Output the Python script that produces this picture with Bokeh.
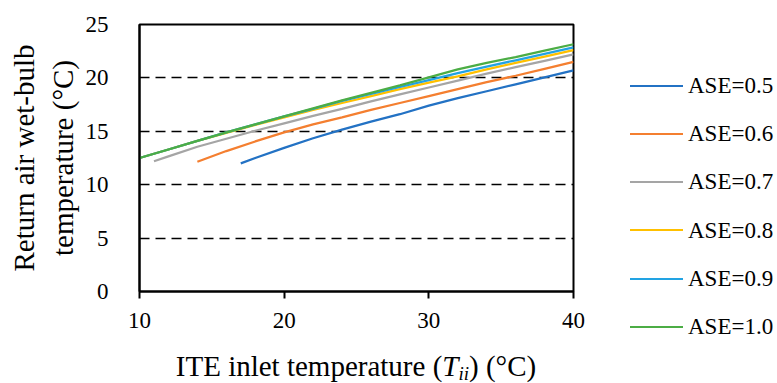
from bokeh.plotting import figure
from bokeh.models import FixedTicker, Range1d, Title, Div
from bokeh.layouts import column, row
from bokeh.embed import file_html
from bokeh.resources import INLINE

# ---- data ----
series_names = ["ASE=0.5", "ASE=0.6", "ASE=0.7", "ASE=0.8", "ASE=0.9", "ASE=1.0"]
series_colors = ["#2372C4", "#F47F30", "#A5A5A5", "#FFC000", "#22A3E3", "#4CAD45"]

x_05 = [17, 18, 20, 22, 24, 26, 28, 30, 32, 34, 36, 38, 40]
y_05 = [12.0, 12.5, 13.45, 14.35, 15.15, 15.9, 16.6, 17.4, 18.1, 18.75, 19.4, 20.05, 20.7]

x_06 = [14, 16, 18, 20, 22, 24, 26, 28, 30, 32, 34, 36, 38, 40]
y_06 = [12.15, 13.15, 14.05, 14.9, 15.65, 16.3, 17.0, 17.65, 18.3, 18.95, 19.6, 20.2, 20.85, 21.5]

x_07 = [11, 12, 14, 16, 18, 20, 22, 24, 26, 28, 30, 32, 34, 36, 38, 40]
y_07 = [12.2, 12.65, 13.55, 14.3, 15.05, 15.75, 16.45, 17.1, 17.8, 18.45, 19.1, 19.75, 20.4, 21.0, 21.6, 22.2]

x_08 = [10, 12, 14, 16, 18, 20, 22, 24, 26, 28, 30, 32, 34, 36, 38, 40]
y_08 = [12.5, 13.3, 14.1, 14.85, 15.6, 16.3, 17.0, 17.65, 18.3, 18.95, 19.55, 20.15, 20.8, 21.4, 22.0, 22.6]

x_09 = [10, 12, 14, 16, 18, 20, 22, 24, 26, 28, 30, 32, 34, 36, 38, 40]
y_09 = [12.5, 13.3, 14.1, 14.9, 15.65, 16.4, 17.1, 17.85, 18.5, 19.15, 19.8, 20.45, 21.05, 21.65, 22.25, 22.85]

x_10 = [10, 12, 14, 16, 18, 20, 22, 24, 26, 28, 30, 32, 34, 36, 38, 40]
y_10 = [12.5, 13.3, 14.1, 14.9, 15.65, 16.4, 17.15, 17.9, 18.6, 19.3, 20.05, 20.8, 21.4, 21.95, 22.55, 23.15]

x_ticks = [10, 20, 30, 40]
y_ticks = [0, 5, 10, 15, 20, 25]

y_title_lines = ["Return air wet-bulb", "temperature (°C)"]

xs = [x_05, x_06, x_07, x_08, x_09, x_10]
ys = [y_05, y_06, y_07, y_08, y_09, y_10]

FONT = "Liberation Serif"

p = figure(width=600, height=345, output_backend="svg", toolbar_location=None,
           x_range=Range1d(10, 40), y_range=Range1d(0, 25),
           min_border_left=139, min_border_right=27, min_border_top=24, min_border_bottom=54)
p.background_fill_color = "white"
p.border_fill_color = "white"
p.outline_line_color = "black"
p.outline_line_width = 2

for xv, yv, c, n in zip(xs, ys, series_colors, series_names):
    p.line(xv, yv, line_color=c, line_width=2.25, name=n)

# axes
p.xaxis.ticker = FixedTicker(ticks=x_ticks)
p.yaxis.ticker = FixedTicker(ticks=y_ticks)
for ax in (p.xaxis[0], p.yaxis[0]):
    ax.axis_line_color = "black"
    ax.axis_line_width = 2
    ax.major_label_text_font = FONT
    ax.major_label_text_font_size = "23px"
    ax.major_label_text_color = "black"
    ax.minor_tick_line_color = None
p.xaxis.major_tick_line_color = "black"
p.xaxis.major_tick_line_width = 2
p.xaxis.major_tick_out = 7
p.xaxis.major_tick_in = 0
p.xaxis.major_label_standoff = 14
p.yaxis.major_tick_line_color = None
p.yaxis.major_tick_out = 0
p.yaxis.major_tick_in = 0
p.yaxis.major_label_standoff = 31

p.xgrid.grid_line_color = None
p.ygrid.grid_line_color = "black"
p.ygrid.grid_line_width = 1.6
p.ygrid.grid_line_dash = "10 6"

# y axis title: two stacked titles in the left panel (first added is nearest the axis)
p.add_layout(Title(text=y_title_lines[1], align="center", text_font=FONT, text_font_size="29px",
                   text_font_style="normal", text_color="black", standoff=8), "left")
p.add_layout(Title(text=y_title_lines[0], align="center", text_font=FONT, text_font_size="29px",
                   text_font_style="normal", text_color="black", standoff=2), "left")

# x axis title with italic subscript, as HTML below the figure
x_title_html = (
    '<div style="width:434px;margin-left:139px;padding-top:7px;text-align:center;'
    'font-family:\'Liberation Serif\';font-size:29px;line-height:29px;color:black;white-space:nowrap;">'
    'ITE inlet temperature (<i>T<span style="font-size:19px;vertical-align:-4px;">ii</span></i>) (°C)</div>'
)
xdiv = Div(text=x_title_html, width=600, height=38, margin=0)

# legend as HTML to the right of the plot
items = []
for i, (n, c) in enumerate(zip(series_names, series_colors)):
    cy = 86 + 48.2 * i
    items.append(
        f'<div style="position:absolute;left:30px;top:{cy - 1.25:.1f}px;width:53px;height:0;'
        f'border-top:2.5px solid {c};"></div>'
        f'<div style="position:absolute;left:88px;top:{cy - 14:.1f}px;height:28px;line-height:28px;'
        f'font-family:\'Liberation Serif\';font-size:23px;color:black;white-space:nowrap;">{n}</div>'
    )
legend_html = '<div style="position:relative;width:177px;height:383px;">' + "".join(items) + "</div>"
ldiv = Div(text=legend_html, width=177, height=383, margin=0)

layout = row(column(p, xdiv, spacing=0), ldiv, spacing=0)

open("out.html", "w").write(file_html(layout, INLINE))
